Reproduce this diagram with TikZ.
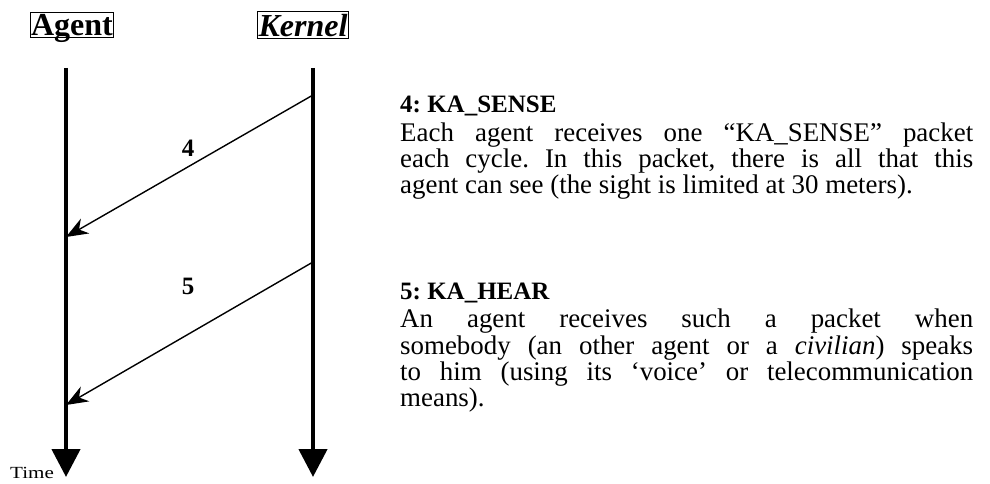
\documentclass[tikz,border=0pt]{standalone}
\usepackage{fontspec}
\usepackage{graphicx}
\setmainfont{Liberation Serif}
\usetikzlibrary{arrows.meta}
\begin{document}
\begin{tikzpicture}[x=1pt,y=-1pt,
  title/.style={draw,line width=0.8pt,inner xsep=1pt,inner ysep=2pt,text depth=0pt,font=\fontsize{32}{34}\selectfont\bfseries},
  life/.style={line width=4.5pt,-{Triangle[width=28pt,length=28pt]}},
  msg/.style={line width=1.4pt,-{Stealth[length=22pt,width=17pt,inset=7pt]}},
  num/.style={font=\fontsize{25}{26}\selectfont\bfseries},
  desc/.style={anchor=north west,inner sep=0pt,text width=573pt,align=justify,font=\frenchspacing\fontsize{26.9}{26.4}\selectfont}
]
\useasboundingbox (0,0) rectangle (990,484);
\node[title] (agent) at (72,25) {Agent};
\node[title] (kernel) at (303,25) {\itshape Kernel};
\coordinate (a0) at (66,68);
\coordinate (a1) at (66,477);
\coordinate (k0) at (313,68);
\coordinate (k1) at (313,477);
\draw[life] (a0) -- (a1);
\draw[life] (k0) -- (k1);
\coordinate (k4) at (313,95);
\coordinate (a4) at (66,237);
\coordinate (k5) at (313,262);
\coordinate (a5) at (66,405);
\draw[msg] (k4) -- (a4);
\draw[msg] (k5) -- (a5);
\node[num] (n4) at (188,148) {4};
\node[num] (n5) at (188,286) {5};
\node[anchor=base west,inner sep=0pt,font=\fontsize{17}{18}\selectfont] (time) at (10,478) {\scalebox{1.24}[1]{Time}};
\node[desc] (d4) at (400,96) {{\fontsize{25}{26.3}\selectfont\bfseries 4: KA\_SENSE}\\[2pt] Each agent receives one “KA\_SENSE” packet\linebreak each cycle. In this packet, there is all that this\linebreak agent can see (the sight is limited at 30 meters).};
\node[desc] (d5) at (400,283) {{\fontsize{25}{26.3}\selectfont\bfseries 5: KA\_HEAR}\\[1.5pt] An agent receives such a packet when\linebreak somebody (an other agent or a \textit{civilian}) speaks\linebreak to him (using its ‘voice’ or telecommunication\linebreak means).};
\end{tikzpicture}
\end{document}
